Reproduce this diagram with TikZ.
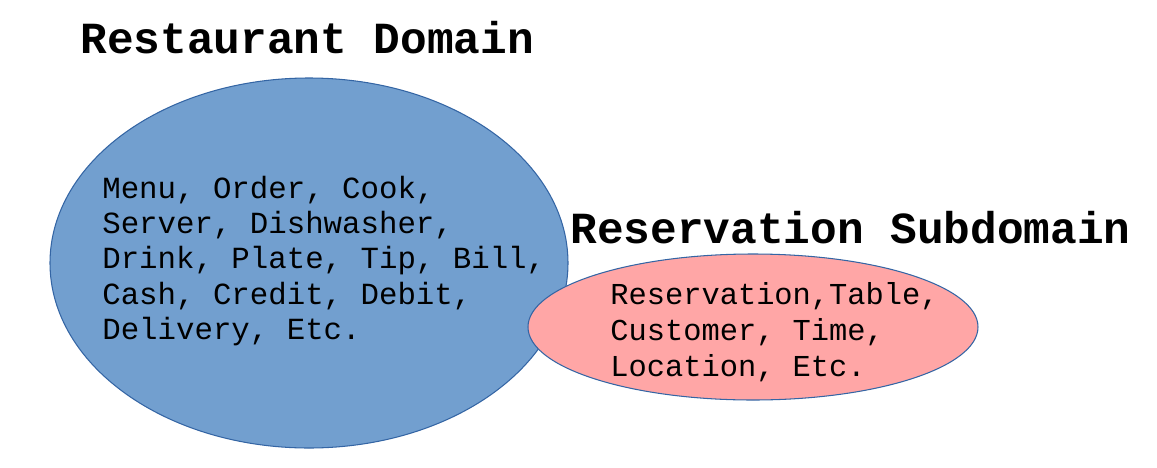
\documentclass[tikz,border=0pt]{standalone}
\usepackage{fontspec}
\setmonofont{Liberation Mono}
\usepackage{tikz}
\usetikzlibrary{calc}

\definecolor{domainblue}{HTML}{729FCF}
\definecolor{subred}{HTML}{FFA6A6}
\definecolor{edgeblue}{HTML}{3465A4}

\begin{document}
\begin{tikzpicture}[x=0.02cm, y=-0.02cm]
        % Picture size, in pixels of the sketch
        \pgfmathsetmacro{\width}{1157}
        \pgfmathsetmacro{\height}{467}

        \tikzset{
            title/.style={font=\ttfamily\bfseries\fontsize{25.3}{30}\selectfont, inner sep=0pt, anchor=base west},
            words/.style={font=\ttfamily\fontsize{17.5}{20.1}\selectfont, inner sep=0pt, anchor=west, align=left},
            blob/.style={line width=0.6pt, draw=edgeblue},
        }

        \useasboundingbox (0, 0) rectangle (\width, \height);

        % The two sets, subdomain drawn over the domain
        \begin{scope}[blob]
            \draw[fill=domainblue] (309, 263) ellipse [x radius=259, y radius=185];
            \draw[fill=subred] (753, 327) ellipse [x radius=225, y radius=73];
        \end{scope}

        % Titles
        \node[title] (domaintitle) at (80, 53) {Restaurant Domain};
        \node[title] (subtitle) at (570, 243) {Reservation Subdomain};

        % Contents of each set
        \node[words] (domainwords) at (102, 261) {Menu, Order, Cook,\\Server, Dishwasher,\\Drink, Plate, Tip, Bill,\\Cash, Credit, Debit,\\Delivery, Etc.};
        \node[words, font=\ttfamily\fontsize{17.3}{20.5}\selectfont] (subwords) at (610, 332) {Reservation,Table,\\Customer, Time,\\Location, Etc.};

        \end{tikzpicture}
\end{document}
